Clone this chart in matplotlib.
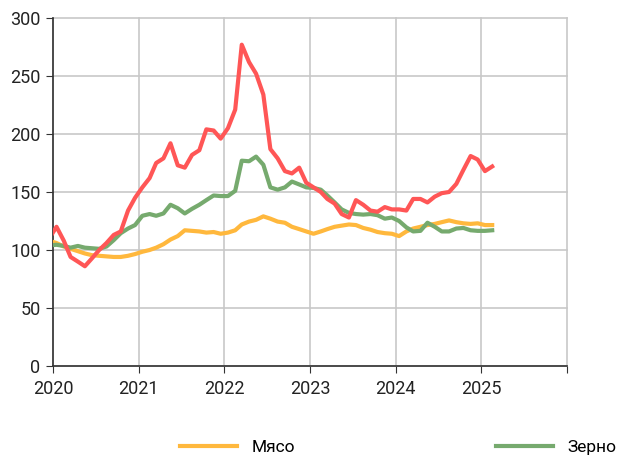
import matplotlib

matplotlib.use("Agg")
import matplotlib.pyplot as plt
import pandas as pd

# monthly values, Dec 2019 .. Feb 2025 (Dec 2019 lies left of the axis start)
months = pd.date_range("2019-12-01", periods=63, freq="MS") + pd.Timedelta(days=15)

red = [
    110, 120, 108, 94, 90, 86, 93, 100, 106, 113, 116, 134, 145,
    154, 162, 175, 179, 192, 173, 171, 182, 186, 204, 203, 196,
    205, 221, 277, 262, 252, 234, 187, 179, 168, 166, 171, 158,
    154, 150, 144, 140, 131, 128, 143, 139, 134, 133, 137, 135,
    135, 134, 144, 144, 141, 146, 149, 150, 157, 169, 181, 178,
    168, 172,
]
meat = [
    108, 106, 103, 101, 99, 97, 95.5, 95, 94.5, 94, 94, 95, 96.5,
    98.5, 100, 102, 105, 109, 112, 117, 116.5, 116, 115, 115.5, 114,
    115, 117, 122, 124.5, 126, 129, 127, 124.5, 123.5, 120, 118, 116,
    114, 116, 118, 120, 121, 122, 121.5, 119, 117.5, 115.5, 114.5, 114,
    112, 116, 118.5, 120, 121.5, 122.5, 124, 125.5, 124, 123, 122.5, 123,
    121.5, 121.5,
]
grain = [
    104, 104.5, 103.5, 102, 103.5, 102, 101.5, 101, 103, 108.5, 114.5, 118.5, 121.5,
    129.5, 131, 129.5, 131.5, 139, 136, 131.5, 135.5, 139, 143, 147, 146.5,
    146.5, 151, 177, 176.5, 180.5, 173.5, 154, 152, 154, 159, 156.5, 154,
    153.5, 152, 147, 141, 135, 132, 131, 130.5, 131, 130, 127, 128,
    125, 119.5, 116, 116.5, 123.5, 120, 116, 116, 118.5, 119, 117, 116.5,
    116.5, 117,
]

years = list(range(2020, 2027))
year_labels = ["2020", "2021", "2022", "2023", "2024", "2025", ""]
y_ticks = [0, 50, 100, 150, 200, 250, 300]

plt.rcParams["font.family"] = ["Roboto", "DejaVu Sans"]

fig = plt.figure(figsize=(6.19, 4.57), dpi=100)
ax = fig.add_axes([53 / 619, 91 / 457, 514 / 619, 348 / 457])

meat_line, = ax.plot(months, meat, color="#FFB83D", lw=3.0, label="Мясо", zorder=3)
grain_line, = ax.plot(months, grain, color="#76AA6E", lw=3.0, label="Зерно", zorder=4)
ax.plot(months, red, color="#FF5656", lw=3.0, zorder=5)

ax.set_xlim(pd.Timestamp("2020-01-01"), pd.Timestamp("2026-01-01"))
ax.set_ylim(0, 300)
ax.set_xticks([pd.Timestamp(f"{y}-01-01") for y in years], year_labels)
ax.set_yticks(y_ticks)

ax.grid(color="#C8C8C8", lw=1.2)
for gl in ax.get_xgridlines() + ax.get_ygridlines():
    gl.set_clip_on(False)
ax.set_axisbelow(True)
for side in ("top", "right"):
    ax.spines[side].set_visible(False)
for side in ("left", "bottom"):
    ax.spines[side].set_color("#333333")
    ax.spines[side].set_linewidth(1.2)
ax.tick_params(axis="x", direction="out", length=5, color="#333333",
               labelsize=13, pad=5, labelcolor="#222222")
ax.tick_params(axis="y", direction="out", length=5, color="#333333",
               labelsize=13, pad=4, labelcolor="#222222")

fig.legend(handles=[meat_line, grain_line], loc="center left",
           bbox_to_anchor=(180 / 619, 1 - 447 / 457), ncol=2, frameon=False,
           fontsize=12.5, handlelength=3.3, handletextpad=0.8,
           columnspacing=11.6, borderpad=0, borderaxespad=0)

fig.savefig("out.png", dpi=100)
